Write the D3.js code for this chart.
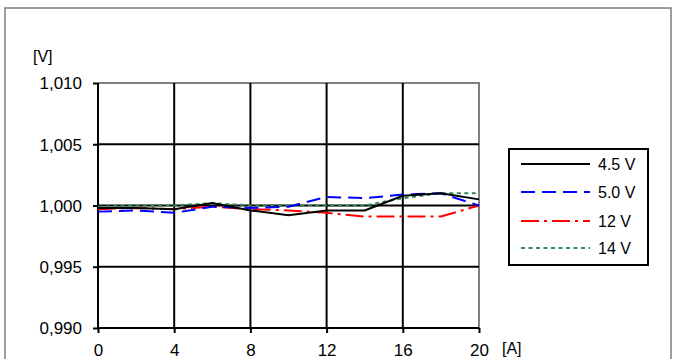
<!DOCTYPE html>
<html><head><meta charset="utf-8">
<script src="https://cdn.jsdelivr.net/npm/d3@7"></script>
<style>
html,body{margin:0;padding:0;background:#fff;}
svg{display:block;font-family:"Liberation Sans",Arial,sans-serif;}
</style></head>
<body><svg id="c" width="680" height="359"></svg>
<script>
const currents = [0, 2, 4, 6, 8, 10, 12, 14, 16, 18, 20];
const v45 = [0.9998, 0.9998, 0.9997, 1.0002, 0.9996, 0.9992, 0.9996, 0.9996, 1.0008, 1.0010, 1.0005];
const v50 = [0.9995, 0.9996, 0.9994, 0.9999, 0.9998, 0.9999, 1.0007, 1.0006, 1.0009, 1.0010, 1.0000];
const v12 = [0.9997, 0.9998, 0.9997, 0.9999, 0.9997, 0.9996, 0.9994, 0.9991, 0.9991, 0.9991, 1.0000];
const v14 = [0.9999, 1.0000, 1.0000, 1.0002, 1.0000, 1.0000, 1.0000, 1.0000, 1.0006, 1.0010, 1.0010];
const seriesNames = ["4.5 V", "5.0 V", "12 V", "14 V"];
const xTicks = [0, 4, 8, 12, 16, 20];
const yTicks = [0.990, 0.995, 1.000, 1.005, 1.010];
const yTickLabels = ["0,990", "0,995", "1,000", "1,005", "1,010"];

const svg = d3.select("#c");
const x = d3.scaleLinear().domain([0, 20]).range([98, 479]);
const y = d3.scaleLinear().domain([0.990, 1.010]).range([328, 83]);

// outer frame
svg.append("rect").attr("x", 5).attr("y", 8).attr("width", 666).attr("height", 400)
  .attr("fill", "none").attr("stroke", "#7f7f7f").attr("stroke-width", 1.5);

// plot border top/right grey
svg.append("path")
  .attr("d", `M${x(0)},${y(1.010)}H${x(20)}V${y(0.990)}`)
  .attr("fill", "none").attr("stroke", "#808080").attr("stroke-width", 2);

// gridlines
const g = svg.append("g");
g.selectAll(".hg").data(yTicks.filter(d => d > 0.9901 && d < 1.0099)).enter().append("line")
  .attr("x1", x(0)).attr("x2", x(20)).attr("y1", d => y(d)).attr("y2", d => y(d))
  .attr("stroke", "#000").attr("stroke-width", 2);
g.selectAll(".vg").data(xTicks.filter(d => d > 0 && d < 20)).enter().append("line")
  .attr("y1", y(1.010)).attr("y2", y(0.990)).attr("x1", d => x(d)).attr("x2", d => x(d))
  .attr("stroke", "#000").attr("stroke-width", 2);

// axes
const yAxis = d3.axisLeft(y).tickValues(yTicks).tickSize(5).tickPadding(11)
  .tickFormat((d, i) => yTickLabels[i]);
const ya = svg.append("g").attr("transform", `translate(${x(0)},0)`).call(yAxis);
const xAxis = d3.axisBottom(x).tickValues(xTicks).tickSize(5).tickPadding(11);
const xa = svg.append("g").attr("transform", `translate(0,${y(0.990)})`).call(xAxis);
[ya, xa].forEach(a => {
  a.select(".domain").attr("stroke", "#000").attr("stroke-width", 2);
  a.selectAll(".tick line").attr("stroke", "#000").attr("stroke-width", 2);
  a.selectAll("text").attr("font-size", 17).attr("font-family", "Liberation Sans, Arial, sans-serif").attr("fill", "#000");
});
ya.select(".domain").attr("d", `M0,${y(1.010)}V${y(0.990)}`);
xa.select(".domain").attr("d", `M${x(0)},0H${x(20)}`);
ya.selectAll("text").attr("dy", "0.35em");
xa.selectAll("text").attr("dy", "0.71em");

// unit labels
svg.append("text").attr("x", 33).attr("y", 62).attr("font-size", 16).text("[V]");
svg.append("text").attr("x", 502).attr("y", 354).attr("font-size", 16).text("[A]");

// series
const styles = [
  {color: "#000000", dash: null, data: v45},
  {color: "#0000ff", dash: "14,7", data: v50},
  {color: "#ff0000", dash: "18,5,3,5", data: v12},
  {color: "#2e8b57", dash: "4,3.5", data: v14}
];
const line = d3.line().x((d, i) => x(currents[i])).y(d => y(d));
const order = [3, 2, 1, 0];
order.forEach(k => {
  const s = styles[k];
  svg.append("path").datum(s.data).attr("d", line)
    .attr("fill", "none").attr("stroke", s.color).attr("stroke-width", 2)
    .attr("stroke-dasharray", s.dash);
});

// legend
const lg = svg.append("g");
lg.append("rect").attr("x", 509).attr("y", 149).attr("width", 139).attr("height", 116)
  .attr("fill", "#fff").attr("stroke", "#000").attr("stroke-width", 2);
const ly = [164, 192, 221, 248];
seriesNames.forEach((n, i) => {
  lg.append("line").attr("x1", 521).attr("x2", 590).attr("y1", ly[i]).attr("y2", ly[i])
    .attr("stroke", styles[i].color).attr("stroke-width", 2)
    .attr("stroke-dasharray", styles[i].dash);
  lg.append("text").attr("x", 598).attr("y", ly[i]).attr("dy", "0.35em")
    .attr("font-size", 16).text(n);
});
</script></body></html>
